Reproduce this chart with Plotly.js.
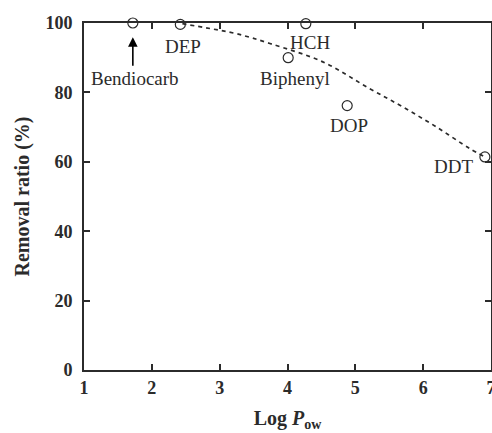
<!DOCTYPE html>
<html>
<head>
<meta charset="utf-8">
<script src="https://cdn.plot.ly/plotly-3.0.1.min.js"></script>
<style>html,body{margin:0;padding:0;background:#fff;}#chart{width:492px;height:433px;}</style>
</head>
<body>
<div id="chart"></div>
<script>
// Compounds (measured points)
const compounds = ['Bendiocarb', 'DEP', 'HCH', 'Biphenyl', 'DOP', 'DDT'];
const logPow = [1.72, 2.42, 4.27, 4.01, 4.88, 6.91];
const removal = [100, 99.6, 99.8, 90.0, 76.2, 61.4];

// Dashed trend curve
const curveX = [2.45, 2.86, 3.25, 3.74, 4.52, 5.21, 5.70, 6.19, 6.68, 6.90];
const curveY = [99.8, 98.4, 96.9, 94.1, 88.8, 81.1, 75.8, 70.1, 63.9, 61.5];

// Label positions (centre of each label text)
const labelX = [1.75, 2.46, 4.33, 4.11, 4.91, 6.44];
const labelY = [84.0, 93.1, 94.3, 84.0, 70.6, 58.6];

// Axis ticks
const xTicks = [1, 2, 3, 4, 5, 6, 7];
const yTicks = [0, 20, 40, 60, 80, 100];

const ink = '#2b2b2b';
const serif = 'Liberation Serif, Times New Roman, serif';

const traces = [
  {
    x: curveX, y: curveY, mode: 'lines', type: 'scatter',
    line: {color: ink, width: 1.7, dash: '4px,4px', shape: 'spline'},
    hoverinfo: 'skip', cliponaxis: false
  },
  {
    x: logPow, y: removal, mode: 'markers', type: 'scatter',
    marker: {symbol: 'circle-open', size: 10, color: ink, line: {color: ink, width: 1.2}},
    cliponaxis: false
  }
];

const annotations = compounds.map((c, i) => ({
  x: labelX[i], y: labelY[i], xref: 'x', yref: 'y', text: c, showarrow: false,
  font: {family: serif, size: 19, color: ink}, xanchor: 'center', yanchor: 'middle'
}));
annotations.push({
  x: logPow[0], y: 95.9, xref: 'x', yref: 'y', text: '', showarrow: true,
  ax: 0, ay: 30, arrowhead: 2, arrowsize: 1.2, arrowwidth: 1.6, arrowcolor: '#000'
});

const axisCommon = {
  showline: true, linecolor: ink, linewidth: 2, mirror: 'ticks',
  ticks: 'inside', ticklen: 6, tickwidth: 2, tickcolor: ink,
  showgrid: false, zeroline: false, automargin: false,
  ticklabeloverflow: 'allow',
  tickfont: {family: serif, size: 18, color: ink, weight: 'bold'}
};

const layout = {
  width: 492, height: 433,
  margin: {l: 84, r: 1, t: 23, b: 63},
  paper_bgcolor: '#fff', plot_bgcolor: '#fff',
  showlegend: false,
  xaxis: Object.assign({}, axisCommon, {
    range: [1, 7], tickvals: xTicks, ticktext: xTicks.map(String),
    title: {text: '<b>Log <i>P</i><sub>ow</sub></b>', font: {family: serif, size: 20, color: ink}, standoff: 14}
  }),
  yaxis: Object.assign({}, axisCommon, {
    range: [0, 100], tickvals: yTicks, ticktext: yTicks.map(String),
    ticklabelstandoff: 6,
    title: {text: '<b>Removal ratio (%)</b>', font: {family: serif, size: 20, color: ink}, standoff: 10}
  }),
  annotations: annotations
};

Plotly.newPlot('chart', traces, layout, {displayModeBar: false, staticPlot: true});
</script>
</body>
</html>
